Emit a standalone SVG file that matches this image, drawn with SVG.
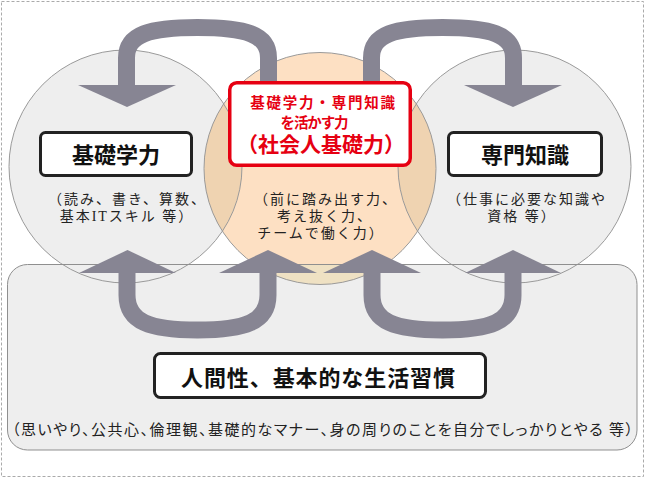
<svg xmlns="http://www.w3.org/2000/svg" width="645" height="478" viewBox="0 0 645 478">
<defs>
<style>
.cl{stroke:#9a9a9a;stroke-width:1;}
.arr{fill:none;stroke:#878593;stroke-width:17;}
.head{fill:#878593;}
.box{fill:#fff;stroke:#222;stroke-width:3;}
.hd{font-family:"Noto Sans CJK JP","Noto Sans",sans-serif;font-weight:bold;font-size:22px;fill:#111;text-anchor:middle;}
.sm{font-family:"Liberation Serif","Noto Sans CJK JP",serif;font-size:14px;fill:#222;text-anchor:middle;letter-spacing:2px;}
.red{font-family:"Liberation Sans","Noto Sans CJK JP",sans-serif;font-weight:bold;fill:#e60012;text-anchor:middle;}
</style>
<clipPath id="cpL"><circle cx="125.5" cy="166.5" r="116.5"/></clipPath>
<clipPath id="cpR"><circle cx="514.5" cy="166.5" r="116.5"/></clipPath>
<clipPath id="cpRect"><rect x="7.5" y="264.5" width="629.5" height="185.5" rx="20"/></clipPath>
</defs>
<rect x="1.5" y="1.5" width="642" height="475" fill="#fff" stroke="#aaa" stroke-width="1" stroke-dasharray="3,2"/>
<g id="base-area">
<rect x="7.5" y="264.5" width="629.5" height="185.5" rx="20" fill="#eeeeee"/>
</g>
<g id="circles">
<circle cx="125.5" cy="166.5" r="116.5" fill="#eeeeee"/>
<circle cx="514.5" cy="166.5" r="116.5" fill="#eeeeee"/>
<circle cx="320" cy="168.5" r="116" fill="#fde0c3"/>
<circle cx="320" cy="168.5" r="116" fill="#efd3b1" clip-path="url(#cpL)"/>
<circle cx="320" cy="168.5" r="116" fill="#efd3b1" clip-path="url(#cpR)"/>
<circle cx="320" cy="168.5" r="116" fill="#efe1c3" clip-path="url(#cpRect)"/>
<circle cx="125.5" cy="166.5" r="116.5" fill="none" class="cl"/>
<circle cx="514.5" cy="166.5" r="116.5" fill="none" class="cl"/>
<circle cx="320" cy="168.5" r="116" fill="none" class="cl"/>
<rect x="7.5" y="264.5" width="629.5" height="185.5" rx="20" fill="none" stroke="#8f8f8f" stroke-width="1"/>
</g>
<g id="connectors">
<path class="arr" d="M126.5,86 V58 C126.5,34 150,27.5 197.5,27.5 C245,27.5 268.5,34 268.5,58 V83"/>
<polygon class="head" points="78,85 176,85 127,107"/>
<path class="arr" d="M371.5,83 V58 C371.5,34 395,27.5 442.5,27.5 C490,27.5 513.5,34 513.5,58 V86"/>
<polygon class="head" points="464,85 562,85 513,107"/>
<path class="arr" d="M127,272 V295 C127,322 150,330 197.5,330 C245,330 268,322 268,295 V272"/>
<polygon class="head" points="79,273 176,273 127.5,250"/>
<polygon class="head" points="219,273 317,273 268,250"/>
<path class="arr" d="M372,272 V295 C372,322 395,330 442.5,330 C490,330 513,322 513,295 V272"/>
<polygon class="head" points="323,273 421,273 372,250"/>
<polygon class="head" points="465,273 561,273 513,250"/>
</g>
<g id="node-kiso">
<rect class="box" x="40.5" y="132.5" width="151" height="43" rx="5"/>
<text class="hd" x="116" y="162.5">基礎学力</text>
<text class="sm"><tspan x="127.5" y="203.5">（読み、書き、算数、</tspan><tspan x="127" y="220.5">基本ITスキル 等）</tspan></text>
</g>
<g id="node-senmon">
<rect class="box" x="448.5" y="132.5" width="153" height="43" rx="5"/>
<text class="hd" x="525" y="162.5">専門知識</text>
<text class="sm"><tspan x="527" y="203.5">（仕事に必要な知識や</tspan><tspan x="522" y="220.5">資格 等）</tspan></text>
</g>
<g id="node-shakaijin">
<text class="sm"><tspan x="326" y="203.5">（前に踏み出す力、</tspan><tspan x="325" y="220.5">考え抜く力、</tspan><tspan x="321" y="238">チームで働く力）</tspan></text>
<rect x="229.75" y="82.75" width="180.5" height="82.5" rx="7" fill="#fff" stroke="#e60012" stroke-width="3.5"/>
<text class="red"><tspan x="323.5" y="108" font-size="14.5" letter-spacing="1.8">基礎学力・専門知識</tspan><tspan x="314" y="128" font-size="14.5" letter-spacing="-1.1">を活かす力</tspan><tspan x="321" y="152" font-size="21">（社会人基礎力）</tspan></text>
</g>
<g id="node-ningensei">
<rect class="box" x="154.5" y="353.5" width="331" height="44" rx="6"/>
<text class="hd" x="318" y="386" font-size="23" textLength="274">人間性、基本的な生活習慣</text>
<text x="12" y="435" font-family="Noto Sans CJK JP, Noto Sans, sans-serif" font-size="15" fill="#222" style="font-feature-settings:'palt'" textLength="621" lengthAdjust="spacing">（思いやり、公共心、倫理観、基礎的なマナー、身の周りのことを自分でしっかりとやる 等）</text>
</g>
</svg>
